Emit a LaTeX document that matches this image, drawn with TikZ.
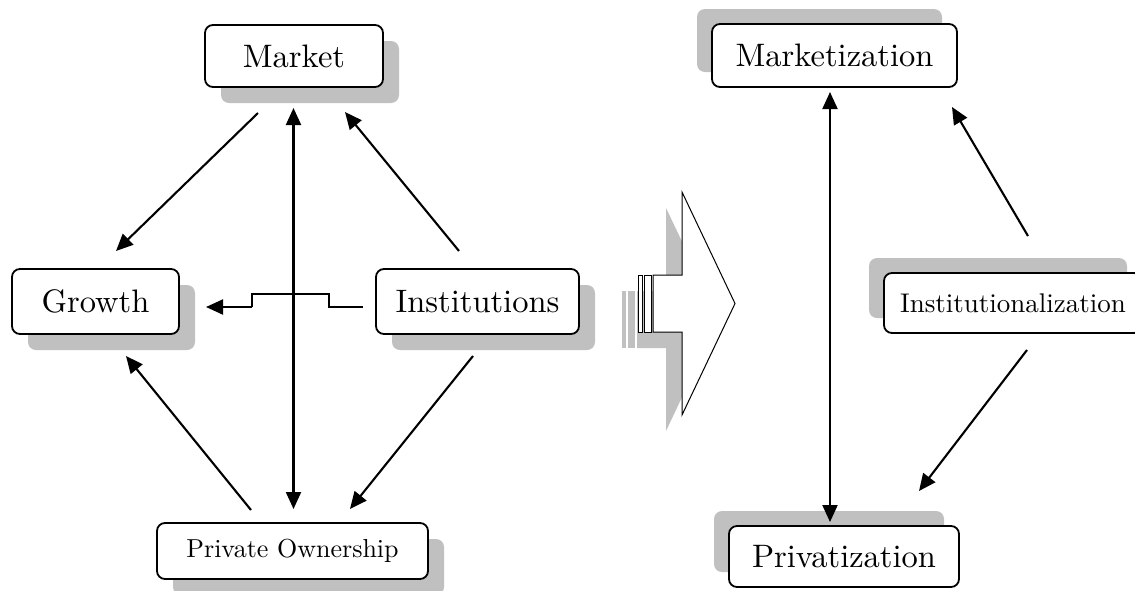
\documentclass[tikz,border=0pt]{standalone}
\usepackage{fontspec}
\setmainfont{lmroman10-regular.otf}
\usetikzlibrary{arrows.meta,shadows}
\definecolor{shadowgray}{RGB}{192,192,192}
\begin{document}
\begin{tikzpicture}[x=1pt,y=-1pt,
  box/.style={draw=black, line width=1.8pt, rounded corners=8pt, fill=white,
    inner sep=0pt, align=center, font=\fontsize{32.5}{38}\selectfont},
  smalltext/.style={font=\fontsize{26}{31}\selectfont},
  midtext/.style={font=\fontsize{27}{32}\selectfont},
  shadowdown/.style={drop shadow={shadow xshift=16pt, shadow yshift=-16pt,
    fill=shadowgray, opacity=1, draw=none}},
  shadowup/.style={drop shadow={shadow xshift=-15pt, shadow yshift=15pt,
    fill=shadowgray, opacity=1, draw=none}},
  conn/.style={line width=2.1pt, -{Triangle[length=17pt,width=15pt]}},
  biconn/.style={line width=2.1pt,
    {Triangle[length=17pt,width=15pt]}-{Triangle[length=17pt,width=15pt]}},
  stepline/.style={line width=1.3pt, line join=miter},
  bigarrow/.style={draw=black, fill=white, line width=1pt, line join=miter},
]
\useasboundingbox (0,0) rectangle (1135,590);

% ---------- left scheme ----------
\node[box, shadowdown, minimum width=178pt, minimum height=62pt] (market) at (294,56) {Market};
\node[box, shadowdown, minimum width=167pt, minimum height=65pt] (growth) at (95.5,301.5) {Growth};
\node[box, shadowdown, minimum width=203pt, minimum height=65pt] (inst) at (477.5,301.5) {Institutions};
\node[box, shadowdown, smalltext, minimum width=271pt, minimum height=56pt] (priv) at (292.5,551) {Private Ownership};

\coordinate (mgA) at (258,113);   \coordinate (mgB) at (116,251);
\coordinate (mpA) at (293.5,108); \coordinate (mpB) at (293.5,509);
\coordinate (imA) at (459,251);   \coordinate (imB) at (345,112);
\coordinate (ipA) at (473,356);   \coordinate (ipB) at (350,509);
\coordinate (pgA) at (251,510);   \coordinate (pgB) at (126,356);
\coordinate (igA) at (363,307);   \coordinate (igK) at (252,307);
\coordinate (igB) at (206,307);

\draw[conn] (mgA) -- (mgB);
\draw[biconn] (mpA) -- (mpB);
\draw[conn] (imA) -- (imB);
\draw[conn] (ipA) -- (ipB);
\draw[conn] (pgA) -- (pgB);
\draw[stepline] (igA) -- (329,307) -- (329,294) -- (252,294) -- (igK);
\draw[conn] (igK) -- (igB);

% ---------- transition arrow ----------
\fill[shadowgray] (637,291) -- (666,291) -- (666,208) -- (719,319)
  -- (666,431) -- (666,348) -- (637,348) -- cycle;
\fill[shadowgray] (622,291) rectangle (626,348);
\fill[shadowgray] (628,291) rectangle (635,348);
\draw[bigarrow] (653,275) -- (682,275) -- (682,192) -- (735,303.5)
  -- (682,415) -- (682,332) -- (653,332) -- cycle;
\draw[bigarrow] (638,275) rectangle (642,332);
\draw[bigarrow] (644,275) rectangle (651,332);

% ---------- right scheme ----------
\node[box, shadowup, minimum width=245pt, minimum height=63pt] (mkt) at (834.5,55.5) {Marketization};
\node[box, shadowup, midtext, minimum width=258pt, minimum height=60pt] (instz) at (1013,303) {Institutionalization};
\node[box, shadowup, minimum width=230pt, minimum height=61pt] (privz) at (844,556.5) {Privatization};

\coordinate (rvA) at (830,92);   \coordinate (rvB) at (830,522);
\coordinate (rmA) at (1028,236); \coordinate (rmB) at (952,107);
\coordinate (rpA) at (1027,350); \coordinate (rpB) at (919,491);

\draw[biconn] (rvA) -- (rvB);
\draw[conn] (rmA) -- (rmB);
\draw[conn] (rpA) -- (rpB);
\end{tikzpicture}
\end{document}
